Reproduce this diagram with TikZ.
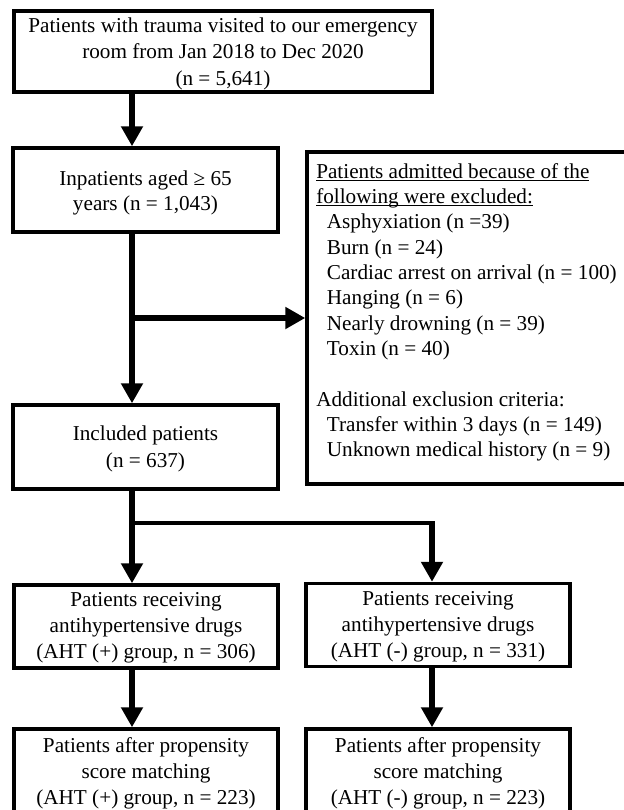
\documentclass[tikz,border=0pt]{standalone}
\usepackage{fontspec}
\setmainfont{Liberation Serif}
\usetikzlibrary{arrows.meta}
\newcommand\ulx[1]{\underline{\smash{#1}}}
\newcommand\bxt[2]{\raisebox{-#1}[\height][\depth]{\begin{tabular}{@{}c@{}}#2\end{tabular}}}
\begin{document}
\begin{tikzpicture}[x=0.75pt,y=-0.75pt,
  box/.style={draw,line width=2.6pt,rectangle,inner sep=0pt,
    font=\fontsize{15.9pt}{19.5pt}\selectfont},
  flow/.style={line width=4.9pt,-{Triangle[width=15.75pt,length=15pt]}},
  link/.style={line width=2.6pt}]
\useasboundingbox (0,0) rectangle (624,810);
\fill[white] (0,0) rectangle (624,810);
\clip (0,0) rectangle (624,810);

\node[box,minimum width=313.5pt,minimum height=60.75pt,
  font=\fontsize{15.9pt}{19.9pt}\selectfont] (top) at (223,51.5)
  {\bxt{1.5pt}{Patients with trauma visited to our emergency\\room from Jan 2018 to Dec 2020\\(n = 5,641)}};
\node[box,minimum width=198.75pt,minimum height=63pt,
  font=\fontsize{15.9pt}{18.8pt}\selectfont] (inp) at (145.5,190)
  {\bxt{2pt}{Inpatients aged ≥ 65\\years (n = 1,043)}};
\node[box,minimum width=198.75pt,minimum height=63pt,
  font=\fontsize{15.9pt}{20pt}\selectfont] (incl) at (145.5,447)
  {\bxt{1pt}{Included patients\\(n = 637)}};
\node[draw,line width=2.6pt,rectangle,inner sep=0pt,
  minimum width=249.75pt,minimum height=249pt] (excl) at (473.5,318) {};
\node[anchor=north west,inner sep=0pt,align=left,
  font=\fontsize{15.9pt}{19pt}\selectfont] (excltext) at (316,178)
  {\ulx{Patients admitted because of the}\\
   \ulx{following were excluded:}\\
   \hspace*{8pt}Asphyxiation (n =39)\\
   \hspace*{8pt}Burn (n = 24)\\
   \hspace*{8pt}Cardiac arrest on arrival (n = 100)\\
   \hspace*{8pt}Hanging (n = 6)\\
   \hspace*{8pt}Nearly drowning (n = 39)\\
   \hspace*{8pt}Toxin (n = 40)\\
   \mbox{}\\
   Additional exclusion criteria:\\
   \hspace*{8pt}Transfer within 3 days (n = 149)\\
   \hspace*{8pt}Unknown medical history (n = 9)};
\node[box,minimum width=198pt,minimum height=62.25pt] (midL) at (146,626.5)
  {\bxt{0.3pt}{Patients receiving\\antihypertensive drugs\\(AHT (+) group, n = 306)}};
\node[box,minimum width=198pt,minimum height=62.25pt] (midR) at (438,625)
  {\bxt{0.6pt}{Patients receiving\\antihypertensive drugs\\(AHT (-) group, n = 331)}};
\node[box,minimum width=198pt,minimum height=66pt] (botL) at (146,773)
  {\bxt{0pt}{Patients after propensity\\score matching\\(AHT (+) group, n = 223)}};
\node[box,minimum width=198pt,minimum height=66pt] (botR) at (438,773)
  {\bxt{0pt}{Patients after propensity\\score matching\\(AHT (-) group, n = 223)}};

\coordinate (sp) at (132,0);
\coordinate (rs) at (432,523);
\coordinate (rtop) at (432,521.3);

\draw[flow] (top.south -| sp) -- (inp.north -| sp);
\draw[flow] (inp.south -| sp) -- (incl.north -| sp);
\draw[flow] (excl.west -| sp) -- (excl.west);
\draw[flow] (incl.south -| sp) -- (midL.north -| sp);
\draw[link] (rs -| sp) -- (rs);
\draw[flow] (rtop) -- (midR.north -| rtop);
\draw[flow] (midL.south -| sp) -- (botL.north -| sp);
\draw[flow] (midR.south -| rs) -- (botR.north -| rs);
\end{tikzpicture}
\end{document}
